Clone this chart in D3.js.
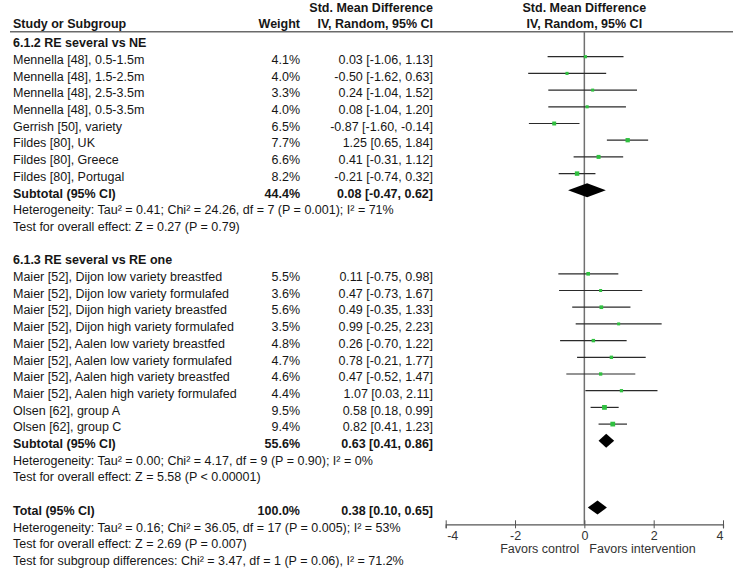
<!DOCTYPE html>
<html>
<head>
<meta charset="utf-8">
<script src="https://cdn.jsdelivr.net/npm/d3@7"></script>
<style>
  html, body { margin: 0; padding: 0; background: #fff; }
  svg { display: block; font-family: "Liberation Sans", Arial, sans-serif; }
</style>
</head>
<body>
<svg id="chart" width="737" height="569"></svg>
<script>
// ---------- DATA ----------
const group1Title = "6.1.2 RE several vs NE";
const group1Studies = [
  "Mennella [48], 0.5-1.5m",
  "Mennella [48], 1.5-2.5m",
  "Mennella [48], 2.5-3.5m",
  "Mennella [48], 0.5-3.5m",
  "Gerrish [50], variety",
  "Fildes [80], UK",
  "Fildes [80], Greece",
  "Fildes [80], Portugal"
];
const group1Weights = [4.1, 4.0, 3.3, 4.0, 6.5, 7.7, 6.6, 8.2];
const group1Est = [0.03, -0.50, 0.24, 0.08, -0.87, 1.25, 0.41, -0.21];
const group1Lo  = [-1.06, -1.62, -1.04, -1.04, -1.60, 0.65, -0.31, -0.74];
const group1Hi  = [1.13, 0.63, 1.52, 1.20, -0.14, 1.84, 1.12, 0.32];
const group1Notes = [
  "Heterogeneity: Tau\u00b2 = 0.41; Chi\u00b2 = 24.26, df = 7 (P = 0.001); I\u00b2 = 71%",
  "Test for overall effect: Z = 0.27 (P = 0.79)"
];

const group2Title = "6.1.3 RE several vs RE one";
const group2Studies = [
  "Maier [52], Dijon low variety breastfed",
  "Maier [52], Dijon low variety formulafed",
  "Maier [52], Dijon high variety breastfed",
  "Maier [52], Dijon high variety formulafed",
  "Maier [52], Aalen low variety breastfed",
  "Maier [52], Aalen low variety formulafed",
  "Maier [52], Aalen high variety breastfed",
  "Maier [52], Aalen high variety formulafed",
  "Olsen [62], group A",
  "Olsen [62], group C"
];
const group2Weights = [5.5, 3.6, 5.6, 3.5, 4.8, 4.7, 4.6, 4.4, 9.5, 9.4];
const group2Est = [0.11, 0.47, 0.49, 0.99, 0.26, 0.78, 0.47, 1.07, 0.58, 0.82];
const group2Lo  = [-0.75, -0.73, -0.35, -0.25, -0.70, -0.21, -0.52, 0.03, 0.18, 0.41];
const group2Hi  = [0.98, 1.67, 1.33, 2.23, 1.22, 1.77, 1.47, 2.11, 0.99, 1.23];
const group2Notes = [
  "Heterogeneity: Tau\u00b2 = 0.00; Chi\u00b2 = 4.17, df = 9 (P = 0.90); I\u00b2 = 0%",
  "Test for overall effect: Z = 5.58 (P < 0.00001)"
];

const subtotalLabel = "Subtotal (95% CI)";
const subtotalWeights = [44.4, 55.6];
const subtotalEst = [0.08, 0.63];
const subtotalLo  = [-0.47, 0.41];
const subtotalHi  = [0.62, 0.86];

const totalLabel = "Total (95% CI)";
const totalWeight = [100.0];
const totalEst = [0.38];
const totalLo  = [0.10];
const totalHi  = [0.65];
const totalNotes = [
  "Heterogeneity: Tau\u00b2 = 0.16; Chi\u00b2 = 36.05, df = 17 (P = 0.005); I\u00b2 = 53%",
  "Test for overall effect: Z = 2.69 (P = 0.007)",
  "Test for subgroup differences: Chi\u00b2 = 3.47, df = 1 (P = 0.06), I\u00b2 = 71.2%"
];

const axisTicks = [-4, -2, 0, 2, 4];
const axisLabelLeft = "Favors control";
const axisLabelRight = "Favors intervention";
const headerCols = ["Study or Subgroup", "Weight", "Std. Mean Difference", "IV, Random, 95% CI"];

// ---------- LAYOUT ----------
const FS = 12.5;
const svg = d3.select("#chart");
const x = d3.scaleLinear().domain([-4, 4]).range([445.7, 723]);
const rowY = d3.scaleLinear().domain([0, 1]).range([56.7, 73.4]);
const colStudy = 13, colWeight = 300, colCI = 433;
const textOff = 7.2;
const textColor = "#161616";
const fmt = v => v.toFixed(2);
const ciText = (e, l, h) => `${fmt(e)} [${fmt(l)}, ${fmt(h)}]`;
const wText = w => w.toFixed(1) + "%";
const sqSize = w => Math.max(3, 1.55 * Math.sqrt(w));

// Build rows
const rows = [];
let idx = -1;
function addGroup(title, studies, weights, est, lo, hi, notes, g) {
  rows.push({ type: "heading", i: idx++, label: title });
  studies.forEach((s, k) => rows.push({ type: "study", i: idx++, label: s, w: weights[k], e: est[k], l: lo[k], h: hi[k] }));
  rows.push({ type: "sub", i: idx++, label: subtotalLabel, w: subtotalWeights[g], e: subtotalEst[g], l: subtotalLo[g], h: subtotalHi[g] });
  notes.forEach(n => rows.push({ type: "note", i: idx++, label: n }));
  idx++; // blank
}
addGroup(group1Title, group1Studies, group1Weights, group1Est, group1Lo, group1Hi, group1Notes, 0);
addGroup(group2Title, group2Studies, group2Weights, group2Est, group2Lo, group2Hi, group2Notes, 1);
rows.push({ type: "sub", i: idx++, label: totalLabel, w: totalWeight[0], e: totalEst[0], l: totalLo[0], h: totalHi[0] });
totalNotes.forEach(n => rows.push({ type: "note", i: idx++, label: n }));

// ---------- HEADER ----------
const hdr = svg.append("g").attr("font-size", FS).attr("font-weight", "bold").attr("fill", textColor);
hdr.append("text").attr("x", colCI).attr("y", 12).attr("text-anchor", "end").text(headerCols[2]);
hdr.append("text").attr("x", colStudy).attr("y", 28).text(headerCols[0]);
hdr.append("text").attr("x", colWeight).attr("y", 28).attr("text-anchor", "end").text(headerCols[1]);
hdr.append("text").attr("x", colCI).attr("y", 28).attr("text-anchor", "end").text(headerCols[3]);
hdr.append("text").attr("x", x(0)).attr("y", 12).attr("text-anchor", "middle").text(headerCols[2]);
hdr.append("text").attr("x", x(0)).attr("y", 28).attr("text-anchor", "middle").text(headerCols[3]);

svg.append("line").attr("x1", 10).attr("x2", 733).attr("y1", 31.7).attr("y2", 31.7)
  .attr("stroke", "#6a6a6a").attr("stroke-width", 1.6);

// zero line
const axisY = rowY(28);
svg.append("line").attr("x1", x(0)).attr("x2", x(0)).attr("y1", 31.7).attr("y2", axisY)
  .attr("stroke", "#707070").attr("stroke-width", 1.5);

// ---------- TEXT ROWS ----------
const tg = svg.append("g").attr("font-size", FS).attr("fill", textColor);
rows.forEach(r => {
  const yb = rowY(r.i) + textOff;
  const bold = r.type === "heading" || r.type === "sub";
  const t = tg.append("text").attr("x", colStudy).attr("y", yb).text(r.label);
  if (bold) t.attr("font-weight", "bold");
  if (r.type === "study" || r.type === "sub") {
    tg.append("text").attr("x", colWeight).attr("y", yb).attr("text-anchor", "end")
      .attr("font-weight", bold ? "bold" : null).text(wText(r.w));
    tg.append("text").attr("x", colCI).attr("y", yb).attr("text-anchor", "end")
      .attr("font-weight", bold ? "bold" : null).text(ciText(r.e, r.l, r.h));
  }
});

// ---------- MARKS ----------
const studies = rows.filter(r => r.type === "study");
const mg = svg.append("g");
mg.selectAll("line.ci").data(studies).join("line").attr("class", "ci")
  .attr("x1", d => x(d.l)).attr("x2", d => x(d.h))
  .attr("y1", d => rowY(d.i)).attr("y2", d => rowY(d.i))
  .attr("stroke", "#2a2a2a").attr("stroke-width", 1.2);
mg.selectAll("rect.pt").data(studies).join("rect").attr("class", "pt")
  .attr("x", d => x(d.e) - sqSize(d.w) / 2).attr("y", d => rowY(d.i) - sqSize(d.w) / 2)
  .attr("width", d => sqSize(d.w)).attr("height", d => sqSize(d.w))
  .attr("fill", "#30c040");
const subs = rows.filter(r => r.type === "sub");
mg.selectAll("path.dia").data(subs).join("path").attr("class", "dia")
  .attr("d", d => {
    const y = rowY(d.i), hh = 7;
    return `M${x(d.l)},${y}L${x(d.e)},${y - hh}L${x(d.h)},${y}L${x(d.e)},${y + hh}Z`;
  })
  .attr("fill", "#000");

// ---------- AXIS ----------
const ag = svg.append("g").attr("transform", `translate(0,${axisY})`)
  .call(d3.axisBottom(x).tickValues(axisTicks).tickFormat(d => String(d)).tickSizeOuter(0).tickSize(4));
ag.select(".domain").attr("stroke", "#555").attr("stroke-width", 1.2);
ag.selectAll(".tick line").attr("stroke", "#555").attr("y1", -4).attr("y2", 4);
ag.selectAll(".tick text").attr("font-size", FS).attr("font-family", "Liberation Sans, Arial, sans-serif")
  .attr("fill", "#333").attr("y", 7).attr("dy", "0.71em");
ag.selectAll(".tick text").filter(d => d === axisTicks[0]).attr("text-anchor", "start").attr("dx", 1);
ag.selectAll(".tick text").filter(d => d === axisTicks[axisTicks.length - 1]).attr("text-anchor", "end").attr("dx", 0);

svg.append("text").attr("x", x(0) - 5).attr("y", axisY + 29).attr("text-anchor", "end")
  .attr("font-size", FS).attr("fill", "#333").text(axisLabelLeft);
svg.append("text").attr("x", x(0) + 5).attr("y", axisY + 29).attr("text-anchor", "start")
  .attr("font-size", FS).attr("fill", "#333").text(axisLabelRight);
</script>
</body>
</html>
